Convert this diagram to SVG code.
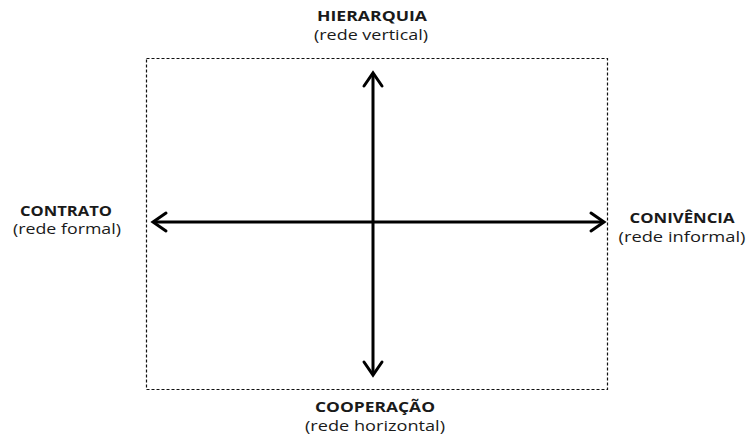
<svg xmlns="http://www.w3.org/2000/svg" width="747" height="436" viewBox="0 0 747 436">
  <style>
    .frame { fill: none; stroke: #111; stroke-width: 1.2; stroke-dasharray: 3 2; }
    .axis { fill: none; stroke: #000; stroke-width: 3; }
    .head { fill: none; stroke: #000; stroke-width: 3; stroke-linecap: round; stroke-linejoin: miter; }
    .title { font-family: "Open Sans", "Noto Sans", "Liberation Sans", sans-serif; font-weight: bold; font-size: 14px; fill: #1a1a1a; text-anchor: middle; }
    .sub { font-family: "Open Sans", "Noto Sans", "Liberation Sans", sans-serif; font-size: 14px; fill: #1a1a1a; text-anchor: middle; }
  </style>
  <rect width="747" height="436" fill="#fff"/>
  <!-- dashed frame around the quadrant area -->
  <rect class="frame" x="146.5" y="58.5" width="461" height="331"/>

  <g id="connectors">
    <line class="axis" x1="373" y1="74" x2="373" y2="375"/>
    <line class="axis" x1="154" y1="222" x2="603" y2="222"/>
    <polyline class="head" points="364,86 373,73 382,86"/>
    <polyline class="head" points="364,362 373,375 382,362"/>
    <polyline class="head" points="166,213 153,222 166,231"/>
    <polyline class="head" points="591,213 604,222 591,231"/>
  </g>

  <g id="hierarquia">
    <text class="title" x="372" y="21" textLength="110" lengthAdjust="spacingAndGlyphs">HIERARQUIA</text>
    <text class="sub" x="371" y="40" textLength="114" lengthAdjust="spacingAndGlyphs">(rede vertical)</text>
  </g>
  <g id="contrato">
    <text class="title" x="66" y="216" textLength="92" lengthAdjust="spacingAndGlyphs">CONTRATO</text>
    <text class="sub" x="67" y="234" textLength="108" lengthAdjust="spacingAndGlyphs">(rede formal)</text>
  </g>
  <g id="conivencia">
    <text class="title" x="682" y="223" textLength="105" lengthAdjust="spacingAndGlyphs">CONIVÊNCIA</text>
    <text class="sub" x="682" y="242" textLength="127" lengthAdjust="spacingAndGlyphs">(rede informal)</text>
  </g>
  <g id="cooperacao">
    <text class="title" x="375" y="412" textLength="120" lengthAdjust="spacingAndGlyphs">COOPERAÇÃO</text>
    <text class="sub" x="375" y="431" textLength="140" lengthAdjust="spacingAndGlyphs">(rede horizontal)</text>
  </g>
</svg>
